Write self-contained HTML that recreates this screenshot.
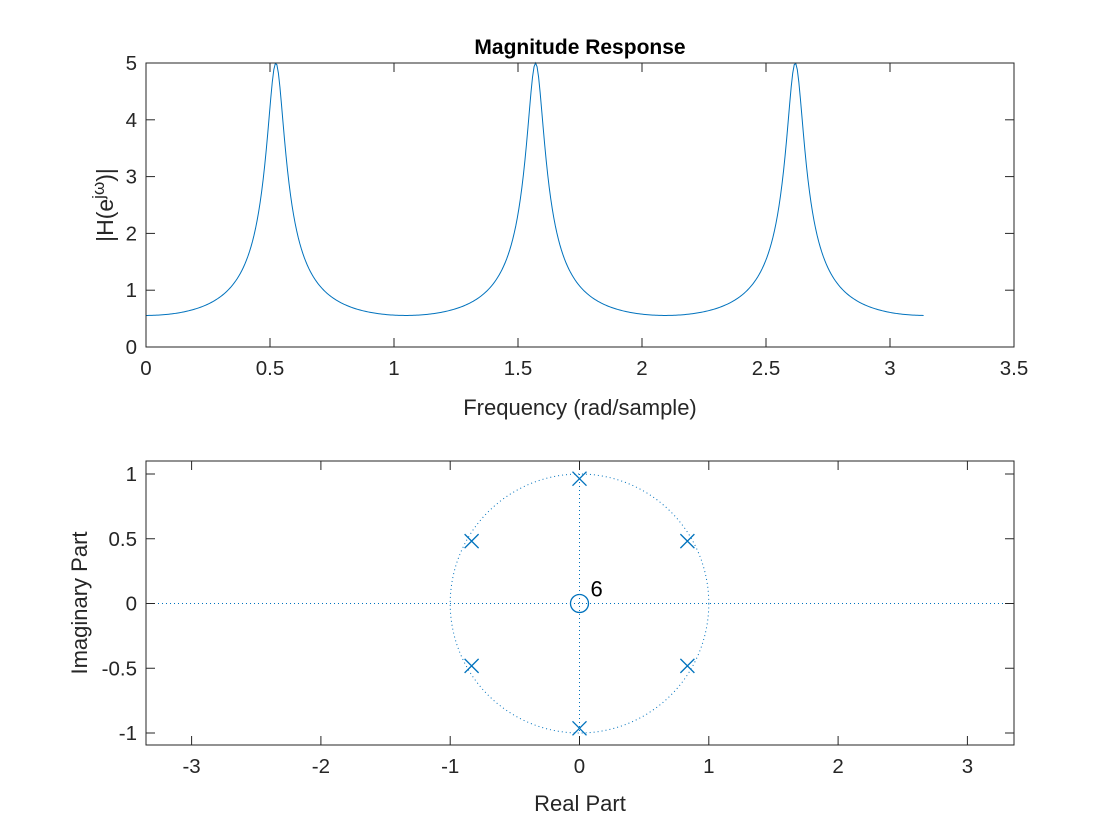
<!DOCTYPE html>
<html><head><meta charset="utf-8"><style>
html,body{margin:0;padding:0;background:#fff;}
svg{display:block;font-family:"Liberation Sans",sans-serif;}
</style></head><body>
<svg id="fig" width="1120" height="840" viewBox="0 0 1120 840" xmlns="http://www.w3.org/2000/svg">
<rect width="1120" height="840" fill="#fff"/>
</svg>
<script>
// Filter data: H(z) = 1 / A(z), A coefficients (z^-k)
const denCoeffs = [1, 0, 0, 0, 0, 0, 0.8];
const numCoeffs = [1];
const nFreq = 512;
// Pole locations (read from z-plane)
const poleReal = [0.8344, 0, -0.8344, -0.8344, 0, 0.8344];
const poleImag = [0.4817, 0.9635, 0.4817, -0.4817, -0.9635, -0.4817];
const zeroReal = [0];
const zeroImag = [0];
const zeroMultiplicity = ["6"];
const topXTicks = [0, 0.5, 1, 1.5, 2, 2.5, 3, 3.5];
const topYTicks = [0, 1, 2, 3, 4, 5];
const botXTicks = [-3, -2, -1, 0, 1, 2, 3];
const botYTicks = [-1, -0.5, 0, 0.5, 1];
const botYTickLabels = ["-1", "-0.5", "0", "0.5", "1"];

const NS = "http://www.w3.org/2000/svg";
const svg = document.getElementById('fig');
function mk(tag, attrs, parent) {
  const e = document.createElementNS(NS, tag);
  for (const k in attrs) e.setAttribute(k, attrs[k]);
  (parent || svg).appendChild(e);
  return e;
}
const BLUE = "#0072BD", AX = "#262626", FS = 20.5;

// ---- top axes
const T = {l:146, r:1014, t:63, b:347, x0:0, x1:3.5, y0:0, y1:5};
const tx = v => T.l + (v - T.x0) / (T.x1 - T.x0) * (T.r - T.l);
const ty = v => T.b - (v - T.y0) / (T.y1 - T.y0) * (T.b - T.t);

let d = "";
for (let k = 0; k < nFreq; k++) {
  const w = Math.PI * k / nFreq;
  let nr = 0, ni = 0, dr = 0, di = 0;
  numCoeffs.forEach((c, n) => { nr += c * Math.cos(-w*n); ni += c * Math.sin(-w*n); });
  denCoeffs.forEach((c, n) => { dr += c * Math.cos(-w*n); di += c * Math.sin(-w*n); });
  const m = Math.hypot(nr, ni) / Math.hypot(dr, di);
  d += (k ? "L" : "M") + tx(w).toFixed(2) + "," + ty(m).toFixed(2);
}
const curve = mk('path', {d, fill:'none', stroke:BLUE, 'stroke-width':1});



const topBox = mk('rect', {x:T.l, y:T.t, width:T.r-T.l, height:T.b-T.t, fill:'none', stroke:AX, 'stroke-width':1});


topXTicks.forEach(v => {
  const x = tx(v);
  mk('line', {x1:x, x2:x, y1:T.b, y2:T.b-9, stroke:AX});
  mk('line', {x1:x, x2:x, y1:T.t, y2:T.t+9, stroke:AX});
  const t = mk('text', {x, y:T.b+28, 'font-size':FS, fill:AX, 'text-anchor':'middle'});
  t.textContent = String(v);
  
  
});
topYTicks.forEach(v => {
  const y = ty(v);
  mk('line', {x1:T.l, x2:T.l+9, y1:y, y2:y, stroke:AX});
  mk('line', {x1:T.r, x2:T.r-9, y1:y, y2:y, stroke:AX});
  const t = mk('text', {x:T.l-9, y:y+7, 'font-size':FS, fill:AX, 'text-anchor':'end'});
  t.textContent = String(v);
  
  
});

// ---- bottom axes
const B = {l:146, r:1014, t:461, b:745, cx:579.5, cy:603.5, sx:129.3, sy:129.5};
const bx = v => B.cx + v * B.sx;
const by = v => B.cy - v * B.sy;

const hline = mk('line', {x1:B.l, x2:B.r, y1:by(0), y2:by(0), stroke:BLUE, 'stroke-width':1, 'stroke-dasharray':'1 3'});


const vline = mk('line', {x1:bx(0), x2:bx(0), y1:by(1), y2:by(-1), stroke:BLUE, 'stroke-width':1, 'stroke-dasharray':'1 3'});


const uc = mk('ellipse', {cx:bx(0), cy:by(0), rx:B.sx, ry:B.sy, fill:'none', stroke:BLUE, 'stroke-width':1, 'stroke-dasharray':'1 3'});



poleReal.forEach((re, i) => {
  const x = bx(re), y = by(poleImag[i]), s = 7;
  const g = mk('path', {d:`M${x-s},${y-s}L${x+s},${y+s}M${x-s},${y+s}L${x+s},${y-s}`, stroke:BLUE, 'stroke-width':1.3, fill:'none'});
  
  
});
zeroReal.forEach((re, i) => {
  const x = bx(re), y = by(zeroImag[i]);
  const c = mk('circle', {cx:x, cy:y, r:9, fill:'none', stroke:BLUE, 'stroke-width':1.3});
  
  
  const t = mk('text', {x:x+11, y:y-7, 'font-size':22, fill:'#000'});
  t.textContent = zeroMultiplicity[i];
  
  
});

const botBox = mk('rect', {x:B.l, y:B.t, width:B.r-B.l, height:B.b-B.t, fill:'none', stroke:AX, 'stroke-width':1});


botXTicks.forEach(v => {
  const x = bx(v);
  mk('line', {x1:x, x2:x, y1:B.b, y2:B.b-9, stroke:AX});
  mk('line', {x1:x, x2:x, y1:B.t, y2:B.t+9, stroke:AX});
  const t = mk('text', {x, y:B.b+28, 'font-size':FS, fill:AX, 'text-anchor':'middle'});
  t.textContent = String(v);
  
  
});
botYTicks.forEach((v, i) => {
  const y = by(v);
  mk('line', {x1:B.l, x2:B.l+9, y1:y, y2:y, stroke:AX});
  mk('line', {x1:B.r, x2:B.r-9, y1:y, y2:y, stroke:AX});
  const t = mk('text', {x:B.l-9, y:y+7, 'font-size':FS, fill:AX, 'text-anchor':'end'});
  t.textContent = botYTickLabels[i];
  
  
});
</script>
<svg style="position:absolute;left:0;top:0" width="1120" height="840" xmlns="http://www.w3.org/2000/svg" font-family="Liberation Sans, sans-serif">
<text x="580" y="54" font-size="21" font-weight="bold" text-anchor="middle" fill="#000">Magnitude Response</text>
<text x="580" y="415" font-size="22" text-anchor="middle" fill="#262626">Frequency (rad/sample)</text>
<text transform="translate(113,205) rotate(-90)" font-size="23" text-anchor="middle" fill="#262626">|H(e<tspan dy="-9" font-size="17">jω</tspan><tspan dy="9">)|</tspan></text>
<text x="580" y="811" font-size="22" text-anchor="middle" fill="#262626">Real Part</text>
<text transform="translate(87,603) rotate(-90)" font-size="22" text-anchor="middle" fill="#262626">Imaginary Part</text>
</svg>
</body></html>
